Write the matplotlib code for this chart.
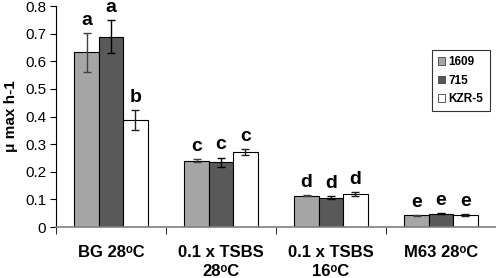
import matplotlib
matplotlib.use("Agg")
import matplotlib.pyplot as plt
import numpy as np

plt.rcParams["font.family"] = ["Liberation Sans", "DejaVu Sans"]

categories = ["BG 28\u1d52C", "0.1 x TSBS\n28\u1d52C",
              "0.1 x TSBS\n16\u1d52C", "M63 28\u1d52C"]
strains = ["1609", "715", "KZR-5"]
vals_1609 = [0.633, 0.241, 0.114, 0.043]
vals_715 = [0.690, 0.235, 0.107, 0.048]
vals_kzr = [0.388, 0.272, 0.120, 0.044]
err_1609 = [0.070, 0.004, 0.002, 0.001]
err_715 = [0.060, 0.017, 0.005, 0.002]
err_kzr = [0.035, 0.011, 0.007, 0.002]
letters_1609 = ["a", "c", "d", "e"]
letters_715 = ["a", "c", "d", "e"]
letters_kzr = ["b", "c", "d", "e"]

colors = ["#a6a6a6", "#595959", "#ffffff"]
err_colors = ["#404040", "#000000", "#202020"]

fig = plt.figure(figsize=(4.96, 2.78), dpi=100)
ax = fig.add_axes([0.113, 0.183, 0.887, 0.795])

x = np.arange(len(categories))
w = 0.222
series = [(vals_1609, err_1609, letters_1609),
          (vals_715, err_715, letters_715),
          (vals_kzr, err_kzr, letters_kzr)]
for i, (vals, errs, lets) in enumerate(series):
    pos = x + (i - 1) * w
    ax.bar(pos, vals, width=w, color=colors[i], edgecolor="black",
           linewidth=0.8, label=strains[i], zorder=2)
    ax.errorbar(pos, vals, yerr=errs, fmt="none", ecolor=err_colors[i],
                elinewidth=1, capsize=3, capthick=1, zorder=3)
    for p, v, e, t in zip(pos, vals, errs, lets):
        ax.annotate(t, (p, v + e), xytext=(0, 3), textcoords="offset points",
                    ha="center", va="bottom", fontsize=14, fontweight="bold")

ax.set_xlim(-0.5, len(categories) - 0.5)
ax.set_ylim(0, 0.8)
ax.set_yticks(np.arange(0, 0.81, 0.1))
ax.set_yticklabels(["0", "0.1", "0.2", "0.3", "0.4", "0.5", "0.6", "0.7", "0.8"])
ax.tick_params(axis="y", labelsize=11, length=4, direction="out", pad=3)

ax.set_xticks(x)
ax.set_xticklabels(categories, fontsize=12, fontweight="bold", linespacing=1.3)
ax.tick_params(axis="x", which="major", length=0, pad=13)
ax.set_xticks(np.arange(-0.5, len(categories) + 0.5, 1), minor=True)
ax.tick_params(axis="x", which="minor", length=5, direction="out", color="black")

ax.spines["top"].set_visible(False)
ax.spines["right"].set_visible(False)
ax.spines["bottom"].set_color("#808080")
ax.spines["bottom"].set_linewidth(1.2)

ax.set_ylabel("\u03bc max h-1", fontsize=11, fontweight="bold", labelpad=5)

leg = ax.legend(loc="upper left", bbox_to_anchor=(0.855, 0.80),
                prop={"weight": "bold", "size": 8.5}, frameon=True, fancybox=False,
                handlelength=0.55, handleheight=0.55, handletextpad=0.35,
                borderpad=0.5, labelspacing=0.55, borderaxespad=0)
leg.get_frame().set_edgecolor("black")
leg.get_frame().set_linewidth(0.8)
for h in leg.legend_handles:
    h.set_edgecolor("#404040")
    h.set_linewidth(0.6)

fig.savefig("out.png", dpi=100)
